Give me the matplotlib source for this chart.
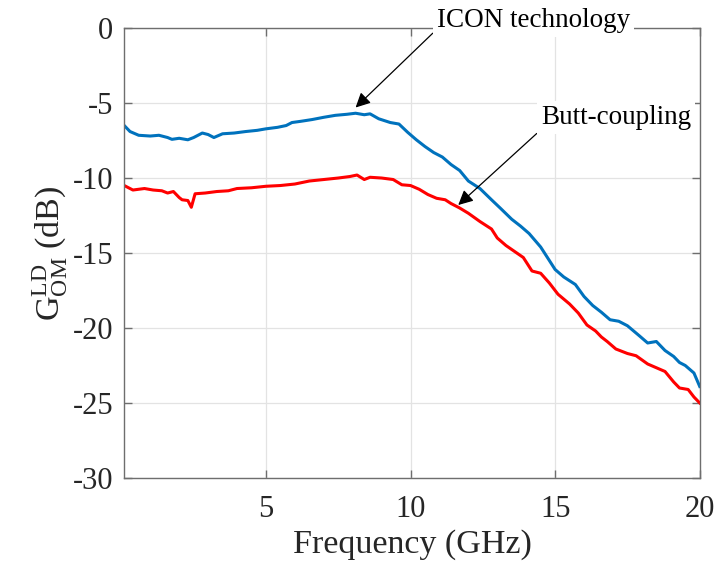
import matplotlib.pyplot as plt

plt.rcParams['font.family'] = 'serif'
plt.rcParams['font.serif'] = ['Liberation Serif', 'DejaVu Serif']
plt.rcParams['mathtext.fontset'] = 'custom'
plt.rcParams['mathtext.rm'] = 'Liberation Serif'
plt.rcParams['mathtext.it'] = 'Liberation Serif:italic'
plt.rcParams['axes.unicode_minus'] = False

# ICON technology
freq_icon = [0.1, 0.3, 0.6, 1.0, 1.3, 1.6, 1.75, 2.0, 2.3, 2.5, 2.8, 3.0, 3.2, 3.5,
             3.9, 4.3, 4.7, 5.0, 5.4, 5.7, 5.9, 6.2, 6.6, 7.0, 7.4, 7.8, 8.1, 8.4,
             8.6, 8.9, 9.3, 9.6, 9.9, 10.2, 10.5, 10.8, 11.1, 11.4, 11.7, 12.0,
             12.4, 12.8, 13.1, 13.5, 13.8, 14.1, 14.5, 14.8, 15.0, 15.3, 15.7,
             16.0, 16.3, 16.6, 16.9, 17.2, 17.5, 17.9, 18.2, 18.5, 18.8, 19.1,
             19.3, 19.5, 19.8, 20.0]
gain_icon = [-6.5, -6.9, -7.15, -7.2, -7.15, -7.3, -7.42, -7.35, -7.45, -7.3, -7.0,
             -7.1, -7.3, -7.05, -7.0, -6.9, -6.82, -6.72, -6.62, -6.5, -6.3, -6.22,
             -6.1, -5.95, -5.82, -5.75, -5.68, -5.78, -5.72, -6.05, -6.3, -6.4,
             -6.95, -7.45, -7.9, -8.3, -8.6, -9.1, -9.5, -10.2, -10.7, -11.45,
             -12.0, -12.75, -13.2, -13.7, -14.6, -15.5, -16.1, -16.6, -17.1,
             -17.9, -18.5, -18.95, -19.45, -19.55, -19.85, -20.5, -21.0, -20.9,
             -21.5, -21.9, -22.3, -22.5, -23.0, -23.9]

# Butt-coupling
freq_butt = [0.1, 0.4, 0.8, 1.1, 1.4, 1.6, 1.8, 2.0, 2.1, 2.3, 2.42, 2.55, 2.9, 3.3,
             3.7, 4.0, 4.5, 5.0, 5.5, 6.0, 6.5, 7.0, 7.5, 7.9, 8.15, 8.4, 8.6, 9.0,
             9.4, 9.7, 10.0, 10.3, 10.6, 10.9, 11.2, 11.4, 11.7, 12.0, 12.4, 12.8,
             13.0, 13.3, 13.6, 13.9, 14.2, 14.5, 14.8, 15.1, 15.5, 15.8, 16.1,
             16.4, 16.6, 16.8, 17.1, 17.5, 17.8, 18.2, 18.5, 18.8, 19.1, 19.3,
             19.6, 19.8, 20.0]
gain_butt = [-10.5, -10.8, -10.7, -10.8, -10.85, -11.0, -10.9, -11.3, -11.45, -11.5,
             -11.95, -11.05, -11.0, -10.9, -10.85, -10.7, -10.65, -10.55, -10.5,
             -10.4, -10.2, -10.1, -10.0, -9.9, -9.8, -10.1, -9.95, -10.0, -10.1,
             -10.45, -10.5, -10.75, -11.1, -11.35, -11.45, -11.7, -12.0, -12.35,
             -12.9, -13.4, -14.0, -14.5, -14.9, -15.3, -16.2, -16.35, -17.0,
             -17.75, -18.4, -19.0, -19.8, -20.2, -20.6, -20.9, -21.4, -21.7,
             -21.85, -22.4, -22.65, -22.9, -23.6, -24.0, -24.1, -24.6, -25.0]

xticks = [5, 10, 15, 20]
yticks = [0, -5, -10, -15, -20, -25, -30]

fig = plt.figure(figsize=(7.14, 5.61), dpi=100)
ax = fig.add_axes([0.174, 0.148, 0.806, 0.802])

ax.plot(freq_icon, gain_icon, color='#0072BD', lw=2.2)
ax.plot(freq_butt, gain_butt, color='#FF0000', lw=2.2)

ax.set_xlim(0.1, 20)
ax.set_ylim(-30, 0)
ax.set_xticks(xticks)
ax.set_yticks(yticks)
ax.set_yticklabels([str(v) for v in yticks])

ax.grid(True, color='#e3e3e3', lw=0.9)
ax.set_axisbelow(True)
for s in ax.spines.values():
    s.set_color('#6e6e6e')
    s.set_linewidth(1.0)
ax.tick_params(direction='in', length=6, width=1.0, color='#6e6e6e',
               top=True, right=True, labelsize=22, labelcolor='#262626')
ax.tick_params(axis='x', pad=12)
ax.tick_params(axis='y', pad=8)

ax.set_xlabel('Frequency (GHz)', fontsize=24.5, color='#262626', labelpad=4)
ax.set_ylabel(r'$\mathrm{G}_{\mathrm{OM}}^{\mathrm{LD}}$ (dB)', fontsize=24.5,
              color='#262626', labelpad=2)

# text labels with arrows
ax.annotate('ICON technology', xy=(8.1, -5.3), xytext=(14.25, 0.5),
            fontsize=19.5, ha='center', va='center', annotation_clip=False,
            bbox=dict(boxstyle='square,pad=0.15', fc='white', ec='none'),
            arrowprops=dict(arrowstyle='-|>', color='k', lw=0.9,
                            mutation_scale=22, shrinkA=0, shrinkB=0,
                            relpos=(0.0, 0.15)),
            zorder=5)
ax.annotate('Butt-coupling', xy=(11.65, -11.8), xytext=(17.1, -5.95),
            fontsize=19.5, ha='center', va='center',
            bbox=dict(boxstyle='square,pad=0.15', fc='white', ec='none'),
            arrowprops=dict(arrowstyle='-|>', color='k', lw=0.9,
                            mutation_scale=22, shrinkA=0, shrinkB=0,
                            relpos=(0.0, 0.0)),
            zorder=5)

fig.savefig('out.png', dpi=100)
